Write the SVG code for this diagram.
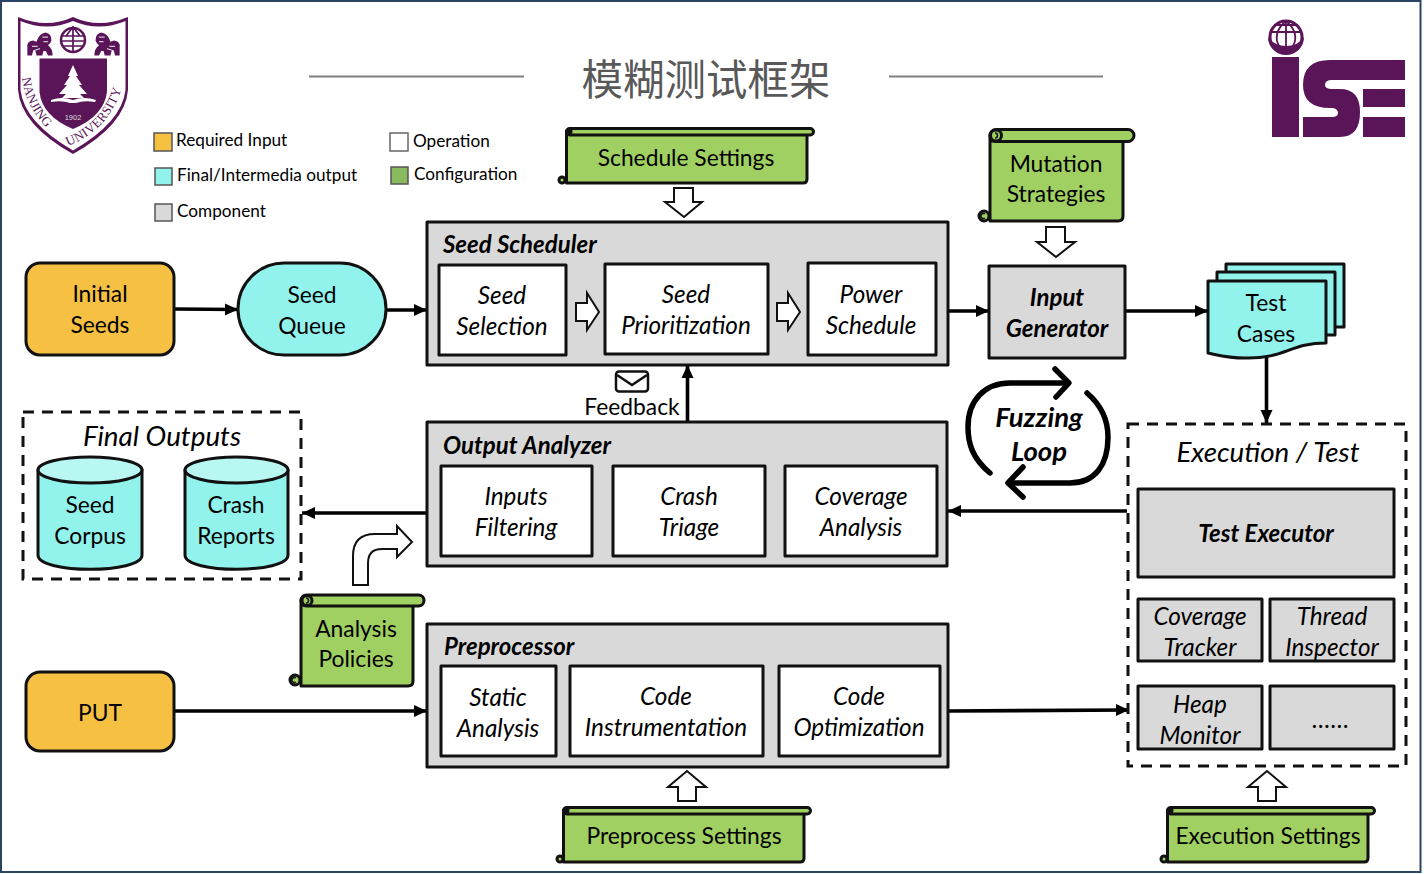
<svg xmlns="http://www.w3.org/2000/svg" width="1424" height="874" viewBox="0 0 1424 874">
<style>
text{font-family:Lato,"Noto Sans","Noto Sans CJK SC",sans-serif;fill:#000;text-anchor:middle;font-size:22.800px}
.i{font-style:italic;font-size:24.300px;transform:translateY(1px)}
.b{font-style:italic;font-weight:700;font-size:24px;transform:translateY(1px)}
.big{font-style:italic;font-size:27.800px;transform:translateY(1px)}
.l{text-anchor:start}
.leg{text-anchor:start;font-size:17.200px}
.crest{font-family:"Liberation Serif",serif;font-size:13px;text-anchor:start;fill:#5a1558}
.s{stroke:#111;stroke-width:3;stroke-linejoin:round}
.gray{fill:#d9d9d9}
.white{fill:#fff}
.cyan{fill:#92f3ec}
.top{fill:#b8f7f2}
.yel{fill:#f6c142}
.grn{fill:#a0d061}
.dash{fill:none;stroke:#111;stroke-width:3;stroke-dasharray:11 8}
.conn{fill:none;stroke:#000;stroke-width:3.600}
.blk{fill:#fff;stroke:#111;stroke-width:2}
.loop{fill:none;stroke:#000;stroke-width:5.500;stroke-linecap:round;stroke-linejoin:round}
.p{fill:#5a1558}
.knob{fill:#111}
.curl{fill:none;stroke:#111;stroke-width:1.500}
</style>
<defs>
<marker id="ah" markerUnits="userSpaceOnUse" markerWidth="13" markerHeight="13" refX="13" refY="6.500" orient="auto"><path d="M0,0.500 L13,6.500 L0,12.500 Z" fill="#000"/></marker>
<g id="lion">
<path d="M-11,10 V3 Q-12,-2 -6,-3 L-3,-2 Q-1,-9 5,-10 Q10,-9 10,-3 Q9,0 7,1 Q11,4 11,10 H7 L5,6 H3 L2,10 H-3 L-4,6 H-6 L-7,10 Z" class="p"/>
<path d="M2,-6 L7,-6 M3,-2 L7,-2 M-7,2 L-2,2 M-6,6 L0,4" stroke="#fff" stroke-width=".8" fill="none"/>
</g>
</defs>
<rect x="0" y="0" width="1424" height="874" fill="#fff"/>
<rect x="1" y="1" width="1419.500" height="871" fill="#fff" stroke="#2b4464" stroke-width="2"/>

<g id="logo-nju">
<path d="M18,17 Q47,29 73,17 Q99,29 128,17 V90 Q125,125 73,154 Q21,125 18,90 Z" class="p"/>
<path d="M20.500,21 Q47,32 73,21 Q99,32 125.500,21 V90 Q122,122 73,150.500 Q24,122 20.500,90 Z" fill="#fff"/>
<path d="M39.500,58.500 H107 V92 Q104,116 73,129 Q42,116 39.500,92 Z" class="p"/>
<path d="M73,65 L78,76 L76,76 L82,85 L79,85 L87,94 L80,94 L84,98 L62,98 L66,94 L59,94 L67,85 L64,85 L70,76 L68,76 Z" fill="#fff"/>
<path d="M51,100 Q62,96 73,100 Q84,96 96,100 L95,102 Q84,100 76,103 H70 Q62,100 51,102 Z" fill="#fff"/>
<circle cx="73" cy="40" r="12" fill="none" stroke="#5a1558" stroke-width="2.500"/>
<path d="M61,36 H85 M61,41 H85 M62,46 H84 M73,28 V51 M66,36 L73,27 L80,36" fill="none" stroke="#5a1558" stroke-width="1.700"/>
<use href="#lion" transform="translate(40,44) scale(1.150)"/>
<use href="#lion" transform="translate(107,44) scale(-1.150,1.150)"/>
<path id="crestL" d="M22,78 Q26,112 56,136" fill="none"/>
<path id="crestR" d="M68,146 Q114,128 124,78" fill="none"/>
<text class="crest"><textPath href="#crestL">NANJING</textPath></text>
<text class="crest" style="letter-spacing:.3px"><textPath href="#crestR">UNIVERSITY</textPath></text>
<text x="73" y="120" style="font-size:7.500px;fill:#ddd;font-family:'Liberation Sans',sans-serif">1902</text>
</g>

<g id="logo-ise">
<circle cx="1286" cy="37" r="16" fill="#fff" stroke="#5a1558" stroke-width="3"/>
<path d="M1268,37 A18,18 0 0 0 1304,37 Q1298,46 1286,46 Q1274,46 1268,37 Z" class="p"/>
<path d="M1270,32 H1302 M1274,25 H1298 M1286,21 V46 M1286,21 Q1272,33 1279,46 M1286,21 Q1300,33 1293,46" fill="none" stroke="#5a1558" stroke-width="1.800"/>
<rect x="1272" y="57" width="27" height="80" class="p"/>
<path d="M1405,60 H1330 Q1303,60 1303,85 Q1303,108 1330,108 H1333 Q1338,109 1338,113 Q1338,117 1332,117 H1303 V137 H1340 Q1360,137 1360,112 Q1360,89 1340,89 H1332 Q1325,89 1325,85 Q1325,80 1332,80 H1405 Z" class="p"/>
<rect x="1363" y="89" width="42" height="18" class="p"/>
<rect x="1363" y="117" width="42" height="20" class="p"/>
</g>

<g id="title">
<path d="M309,76.500 H524 M889,76.500 H1103" stroke="#7f7f7f" stroke-width="2" fill="none"/>
<text x="706" y="95" style="font-size:41.500px;fill:#595959;font-family:'Noto Sans CJK SC','Noto Sans',sans-serif">模糊测试框架</text>
</g>

<g id="legend">
<rect x="154" y="133" width="18" height="18" class="yel" stroke="#555" stroke-width="1.500"/>
<text x="176" y="146" class="leg">Required Input</text>
<rect x="155" y="168" width="17" height="17" class="cyan" stroke="#555" stroke-width="1.500"/>
<text x="177" y="181" class="leg">Final/Intermedia output</text>
<rect x="155" y="204" width="17" height="17" class="gray" stroke="#555" stroke-width="1.500"/>
<text x="177" y="217" class="leg">Component</text>
<rect x="390" y="133" width="18" height="18" fill="#fff" stroke="#666" stroke-width="1.500"/>
<text x="413" y="147" class="leg">Operation</text>
<rect x="391" y="167" width="17" height="17" fill="#8aba60" stroke="#555" stroke-width="1.500"/>
<text x="414" y="180" class="leg">Configuration</text>
</g>

<g id="connectors">
<path class="conn" marker-end="url(#ah)" d="M175,309 L238,309.500"/>
<path class="conn" marker-end="url(#ah)" d="M386,310 H427"/>
<path class="conn" marker-end="url(#ah)" d="M948,311 H989"/>
<path class="conn" marker-end="url(#ah)" d="M1126,311 H1208"/>
<path class="conn" marker-end="url(#ah)" d="M1266.500,356 V423"/>
<path class="conn" marker-end="url(#ah)" d="M687.500,421 V365"/>
<path class="conn" marker-end="url(#ah)" d="M427,513 H302"/>
<path class="conn" marker-end="url(#ah)" d="M1127,511 H948"/>
<path class="conn" marker-end="url(#ah)" d="M175,711 H427"/>
<path class="conn" marker-end="url(#ah)" d="M949,711 L1129,710"/>
</g>

<g id="initial-seeds">
<rect x="26" y="263" width="148" height="92" rx="14" class="yel s"/>
<text x="100" y="302">Initial</text><text x="100" y="333">Seeds</text>
</g>
<g id="seed-queue">
<rect x="238" y="263" width="148" height="92" rx="46" class="cyan s"/>
<text x="312" y="303">Seed</text><text x="312" y="334">Queue</text>
</g>

<g id="seed-scheduler">
<rect x="427" y="222" width="521" height="143" class="gray s"/>
<text x="443" y="252" class="b l">Seed Scheduler</text>
</g>
<g id="seed-selection">
<rect x="439" y="265" width="127" height="90" class="white s"/>
<text x="502" y="303" class="i">Seed</text><text x="502" y="334" class="i">Selection</text>
</g>
<g id="seed-prioritization">
<rect x="605" y="264" width="163" height="90" class="white s"/>
<text x="686" y="302" class="i">Seed</text><text x="686" y="333" class="i">Prioritization</text>
</g>
<g id="power-schedule">
<rect x="808" y="263" width="128" height="92" class="white s"/>
<text x="871" y="302" class="i">Power</text><text x="871" y="333" class="i">Schedule</text>
</g>
<g id="flow-arrows-scheduler">
<path class="blk" d="M576,303 H587 V293 L599,312 L587,330 V321 H576 Z"/>
<path class="blk" d="M777,303 H788 V293 L800,312 L788,330 V321 H777 Z"/>
</g>

<g id="input-generator">
<rect x="989" y="266" width="136" height="92" class="gray s"/>
<text x="1057" y="305" class="b">Input</text><text x="1057" y="336" class="b">Generator</text>
</g>

<g id="test-cases">
<rect x="1226" y="264" width="118" height="63" class="cyan s"/>
<rect x="1217" y="272" width="118" height="63" class="cyan s"/>
<path class="cyan s" d="M1208,281 H1326 V343 C1290,343 1285,359 1245,358 C1228,358 1218,355 1208,353 Z"/>
<text x="1266" y="311">Test</text><text x="1266" y="342">Cases</text>
</g>

<g id="schedule-settings">
<path class="grn s" d="M566.500,131 V183 H803 Q807,183 807,179 V134 H566.500 Z"/>
<rect x="566.500" y="128.500" width="247" height="6.500" rx="3.200" class="grn s"/>
<circle cx="569" cy="131.500" r="3.500" class="knob"/>
<circle cx="562" cy="180" r="3" class="grn s"/>
<text x="686" y="166">Schedule Settings</text>
</g>
<path id="arrow-schedule" class="blk" d="M674,188 H693 V202 H702 L684,217 L665,202 H674 Z"/>

<g id="mutation-strategies">
<path class="grn s" d="M990,135 V221 H1118 Q1123,221 1123,216 V141 H990 Z"/>
<rect x="990" y="129.500" width="144" height="12" rx="6" class="grn s"/>
<circle cx="996" cy="135.500" r="5.500" class="grn s"/>
<path class="curl" d="M995,133 A2.500,2.500 0 1 1 995,138"/>
<circle cx="984" cy="216" r="5" class="grn s"/>
<path class="curl" d="M985,214 A2.500,2.500 0 1 0 985,218"/>
<text x="1056" y="172">Mutation</text><text x="1056" y="202">Strategies</text>
</g>
<path id="arrow-mutation" class="blk" d="M1046,227 H1065 V242 H1075 L1056,257 L1037,242 H1046 Z"/>

<g id="feedback">
<rect x="616" y="371.500" width="32" height="20" rx="3" fill="#fff" stroke="#111" stroke-width="2.500"/>
<path d="M617,375 L632,385 L647,375" fill="none" stroke="#111" stroke-width="2.500"/>
<text x="632" y="415">Feedback</text>
</g>

<g id="fuzzing-loop">
<path class="loop" d="M990,473 C972,458 968,443 968,427 C968,400 985,383 1010,383 H1068"/>
<path class="loop" d="M1055,369 L1069,383 L1056,397"/>
<path class="loop" d="M1087,393 C1101,405 1108,420 1108,437 C1108,465 1095,483 1070,483 H1010"/>
<path class="loop" d="M1023,467 L1008,483 L1023,497"/>
<text x="1039" y="426" class="b" style="font-size:27.500px">Fuzzing</text>
<text x="1039" y="460" class="b" style="font-size:27.500px">Loop</text>
</g>

<g id="final-outputs">
<rect x="23" y="412" width="278" height="167" class="dash"/>
<text x="162" y="445" class="big">Final Outputs</text>
</g>
<g id="seed-corpus">
<path class="cyan s" d="M38,470 V555 C38,574 142,574 142,555 V470 Z"/>
<ellipse cx="90" cy="470" rx="52" ry="13" class="top s"/>
<text x="90" y="513">Seed</text><text x="90" y="544">Corpus</text>
</g>
<g id="crash-reports">
<path class="cyan s" d="M185,470 V555 C185,574 288,574 288,555 V470 Z"/>
<ellipse cx="236.500" cy="470" rx="51.500" ry="13" class="top s"/>
<text x="236" y="513">Crash</text><text x="236" y="544">Reports</text>
</g>

<g id="output-analyzer">
<rect x="427" y="422" width="520" height="144" class="gray s"/>
<text x="443" y="453" class="b l">Output Analyzer</text>
</g>
<g id="inputs-filtering">
<rect x="441" y="466" width="151" height="90" class="white s"/>
<text x="516" y="504" class="i">Inputs</text><text x="516" y="535" class="i">Filtering</text>
</g>
<g id="crash-triage">
<rect x="613" y="466" width="152" height="90" class="white s"/>
<text x="689" y="504" class="i">Crash</text><text x="689" y="535" class="i">Triage</text>
</g>
<g id="coverage-analysis">
<rect x="785" y="466" width="152" height="90" class="white s"/>
<text x="861" y="504" class="i">Coverage</text><text x="861" y="535" class="i">Analysis</text>
</g>

<path id="arrow-policies" class="blk" d="M353,585 V556 Q353,534 375,534 H397 V526 L412,542 L397,557 V549 H382 Q368,549 368,563 V585 Z"/>
<g id="analysis-policies">
<path class="grn s" d="M301,600 V686 H408 Q413,686 413,681 V605 H301 Z"/>
<rect x="301" y="595" width="123" height="11" rx="5.500" class="grn s"/>
<circle cx="307" cy="600.500" r="5" class="grn s"/>
<path class="curl" d="M306,598 A2.500,2.500 0 1 1 306,603"/>
<circle cx="295" cy="680" r="5" class="grn s"/>
<path class="curl" d="M296,678 A2.500,2.500 0 1 0 296,682"/>
<text x="356" y="637">Analysis</text><text x="356" y="667">Policies</text>
</g>

<g id="put">
<rect x="26" y="672" width="148" height="79" rx="14" class="yel s"/>
<text x="100" y="721">PUT</text>
</g>

<g id="preprocessor">
<rect x="427" y="624" width="521" height="143" class="gray s"/>
<text x="444" y="654" class="b l">Preprocessor</text>
</g>
<g id="static-analysis">
<rect x="441" y="666" width="115" height="90" class="white s"/>
<text x="498" y="705" class="i">Static</text><text x="498" y="736" class="i">Analysis</text>
</g>
<g id="code-instrumentation">
<rect x="570" y="666" width="193" height="90" class="white s"/>
<text x="666" y="704" class="i">Code</text><text x="666" y="735" class="i">Instrumentation</text>
</g>
<g id="code-optimization">
<rect x="779" y="666" width="161" height="90" class="white s"/>
<text x="859" y="704" class="i">Code</text><text x="859" y="735" class="i">Optimization</text>
</g>

<path id="arrow-preprocess" class="blk" d="M678,801 V787 H668 L687,771 L706,787 H696 V801 Z"/>
<g id="preprocess-settings">
<path class="grn s" d="M563.500,810 V862 H800 Q804,862 804,858 V813 H563.500 Z"/>
<rect x="563.500" y="807.500" width="247" height="6.500" rx="3.200" class="grn s"/>
<circle cx="566" cy="810.500" r="3.500" class="knob"/>
<circle cx="560" cy="859" r="3" class="grn s"/>
<text x="684" y="844">Preprocess Settings</text>
</g>

<g id="execution-test">
<rect x="1128" y="424" width="278" height="342" class="dash"/>
<text x="1268" y="461" class="big">Execution / Test</text>
</g>
<g id="test-executor">
<rect x="1138" y="489" width="256" height="88" class="gray s"/>
<text x="1266" y="541" class="b">Test Executor</text>
</g>
<g id="coverage-tracker">
<rect x="1138" y="599" width="124" height="62" class="gray s"/>
<text x="1200" y="624" class="i">Coverage</text><text x="1200" y="655" class="i">Tracker</text>
</g>
<g id="thread-inspector">
<rect x="1270" y="599" width="124" height="62" class="gray s"/>
<text x="1332" y="624" class="i">Thread</text><text x="1332" y="655" class="i">Inspector</text>
</g>
<g id="heap-monitor">
<rect x="1138" y="686" width="124" height="63" class="gray s"/>
<text x="1200" y="712" class="i">Heap</text><text x="1200" y="743" class="i">Monitor</text>
</g>
<g id="more">
<rect x="1270" y="686" width="124" height="63" class="gray s"/>
<text x="1331" y="727" class="i" style="letter-spacing:.6px">......</text>
</g>

<path id="arrow-execution" class="blk" d="M1258,801 V787 H1248 L1267,771 L1286,787 H1276 V801 Z"/>
<g id="execution-settings">
<path class="grn s" d="M1167.500,810 V862 H1364 Q1368,862 1368,858 V813 H1167.500 Z"/>
<rect x="1167.500" y="807.500" width="207" height="6.500" rx="3.200" class="grn s"/>
<circle cx="1170" cy="810.500" r="3.500" class="knob"/>
<circle cx="1164" cy="859" r="3" class="grn s"/>
<text x="1268" y="844">Execution Settings</text>
</g>
</svg>
